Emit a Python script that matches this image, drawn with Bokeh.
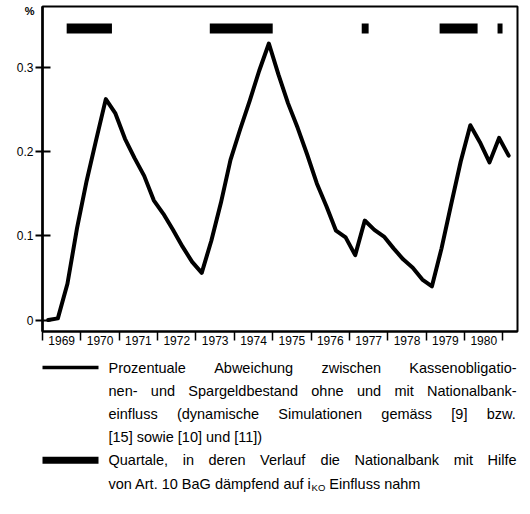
from bokeh.plotting import figure
from bokeh.models import FixedTicker, Range1d, LinearAxis
from bokeh.layouts import column
from bokeh.embed import file_html
from bokeh.resources import INLINE
from bokeh.core.properties import value

# ---------------- data ----------------
quarter_x = [1969.15, 1969.40, 1969.65, 1969.90,
             1970.15, 1970.40, 1970.65, 1970.90,
             1971.15, 1971.40, 1971.65, 1971.90,
             1972.15, 1972.40, 1972.65, 1972.90,
             1973.15, 1973.40, 1973.65, 1973.90,
             1974.15, 1974.40, 1974.65, 1974.90,
             1975.15, 1975.40, 1975.65, 1975.90,
             1976.15, 1976.40, 1976.65, 1976.90,
             1977.15, 1977.40, 1977.65, 1977.90,
             1978.15, 1978.40, 1978.65, 1978.90,
             1979.15, 1979.40, 1979.65, 1979.90,
             1980.15, 1980.40, 1980.65, 1980.90,
             1981.15]
deviation = [0.000, 0.002, 0.043, 0.109,
             0.165, 0.214, 0.262, 0.245,
             0.215, 0.192, 0.171, 0.142,
             0.126, 0.107, 0.087, 0.069,
             0.056, 0.094, 0.139, 0.190,
             0.226, 0.260, 0.296, 0.328,
             0.291, 0.257, 0.228, 0.196,
             0.162, 0.135, 0.106, 0.098,
             0.077, 0.118, 0.107, 0.099,
             0.085, 0.072, 0.062, 0.048,
             0.040, 0.085, 0.137, 0.188,
             0.231, 0.211, 0.187, 0.216,
             0.195]
# quarters with SNB intervention (start / end, fractional years)
bar_start = [1969.63, 1973.36, 1977.32, 1979.35, 1980.86]
bar_end = [1970.81, 1975.00, 1977.50, 1980.34, 1980.99]

y_ticks = [0, 0.1, 0.2, 0.3]
y_tick_labels = ["0", "0.1", "0.2", "0.3"]
unit_label = "%"
year_labels = ["1969", "1970", "1971", "1972", "1973", "1974",
               "1975", "1976", "1977", "1978", "1979", "1980"]
year_bounds = [1969, 1970, 1971, 1972, 1973, 1974, 1975,
               1976, 1977, 1978, 1979, 1980, 1981]

legend_line_text = [
    "Prozentuale Abweichung zwischen Kassenobligatio-",
    "nen- und Spargeldbestand ohne und mit Nationalbank-",
    "einfluss (dynamische Simulationen gemäss [9] bzw.",
    "[15] sowie [10] und [11])",
]
legend_bar_text = [
    "Quartale, in deren Verlauf die Nationalbank mit Hilfe",
]
legend_bar_last = ["von Art. 10 BaG dämpfend auf i", "KO", "Einfluss nahm"]

FONT = "Liberation Sans"

# ---------------- chart ----------------
FRAME_L, FRAME_R, FRAME_T, FRAME_B = 42, 517, 6, 331
CHART_BOTTOM = 28
p = figure(frame_width=FRAME_R - FRAME_L, frame_height=FRAME_B - FRAME_T,
           x_range=Range1d(1969.0, 1981.38), y_range=Range1d(-0.0136, 0.3719),
           output_backend="svg", toolbar_location=None,
           min_border_left=FRAME_L, min_border_right=5, min_border_top=FRAME_T,
           min_border_bottom=CHART_BOTTOM)
p.grid.visible = False
p.outline_line_color = "black"
p.outline_line_width = 2
p.background_fill_color = "white"
p.border_fill_color = "white"

p.line(quarter_x, deviation, line_color="black", line_width=4,
       line_join="round", line_cap="round")

p.quad(left=bar_start, right=bar_end, bottom=0.3399, top=0.3517,
       fill_color="black", line_color=None)

# y axis
ya = p.yaxis[0]
ya.ticker = FixedTicker(ticks=y_ticks, minor_ticks=[])
ya.major_label_overrides = {t: l for t, l in zip(y_ticks, y_tick_labels)}
ya.major_tick_in = 8
ya.major_tick_out = 7
ya.major_tick_line_width = 2
ya.axis_line_width = 2.5
ya.major_label_standoff = 2
ya.major_label_text_font = FONT
ya.major_label_text_font_size = "12px"
ya.major_label_text_color = "black"

# unit label "%" at the top of the value axis
ua = LinearAxis(ticker=FixedTicker(ticks=[0.366], minor_ticks=[]),
                major_label_overrides={0.366: unit_label},
                axis_line_color=None, major_tick_line_color=None,
                minor_tick_line_color=None, major_tick_in=0, major_tick_out=0,
                major_label_standoff=-21, major_label_text_font=FONT,
                major_label_text_font_size="11px",
                major_label_text_font_style="bold",
                major_label_text_color="black")
p.add_layout(ua, "left")

# x axis: labels centred in each year, separators at year bounds
xa = p.xaxis[0]
centers = [b + 0.5 for b in year_bounds[:-1]]
xa.ticker = FixedTicker(ticks=centers, minor_ticks=year_bounds)
xa.major_label_overrides = {c: l for c, l in zip(centers, year_labels)}
xa.major_tick_in = 0
xa.major_tick_out = 0
xa.minor_tick_in = 0
xa.minor_tick_out = 9
xa.minor_tick_line_width = 1.5
xa.minor_tick_line_color = "black"
xa.axis_line_width = 2
xa.major_label_standoff = -5
xa.major_label_text_font = FONT
xa.major_label_text_font_size = "12px"
xa.major_label_text_color = "black"

# ---------------- legend block ----------------
# frame is aligned with the chart frame by the column layout; data units = page px
TOP = FRAME_T + (FRAME_B - FRAME_T) + CHART_BOTTOM
LH = 146
q = figure(frame_width=FRAME_R - FRAME_L, height=LH,
           x_range=Range1d(FRAME_L, FRAME_R), y_range=Range1d(TOP + LH, TOP),
           output_backend="svg", toolbar_location=None,
           x_axis_type=None, y_axis_type=None, min_border=0,
           min_border_left=FRAME_L, min_border_right=5)
q.grid.visible = False
q.outline_line_color = None
q.border_fill_color = "white"

W = {' ': 278, '!': 278, '(': 333, ')': 333, ',': 278, '-': 333, '.': 278,
     '[': 278, ']': 278, 'A': 667, 'B': 667, 'C': 722, 'D': 722, 'E': 667,
     'F': 611, 'G': 778, 'H': 722, 'I': 278, 'K': 667, 'L': 556, 'M': 833,
     'N': 722, 'O': 778, 'P': 667, 'Q': 778, 'R': 722, 'S': 667, 'T': 611,
     'V': 667, 'W': 944, 'Z': 611,
     'a': 556, 'b': 556, 'c': 500, 'd': 556, 'e': 556, 'f': 278, 'g': 556,
     'h': 556, 'i': 222, 'j': 222, 'k': 500, 'l': 222, 'm': 833, 'n': 556,
     'o': 556, 'p': 556, 'q': 556, 'r': 333, 's': 500, 't': 278, 'u': 556,
     'v': 500, 'w': 722, 'x': 500, 'y': 500, 'z': 500, 'ä': 556}
FS = 14.5


def tw(s, size=FS):
    return sum(W.get(c, 556) for c in s) * size / 1000.0


X0, X1 = 108, 516
LINE_Y0 = 367
DY = 23.2


def put(x, y, t, size=FS):
    q.text(x=[x], y=[y], text=[t], text_font=value(FONT),
           text_font_size=f"{size}px", text_baseline="middle",
           text_align="left", text_color="black")


def justify(line, y):
    words = line.split(" ")
    ws = [tw(w) for w in words]
    gap = (X1 - X0 - sum(ws)) / (len(words) - 1)
    x = X0
    for w, wd in zip(words, ws):
        put(x, y, w)
        x += wd + gap


for i, t in enumerate(legend_line_text):
    y = LINE_Y0 + i * DY
    if i < len(legend_line_text) - 1:
        justify(t, y)
    else:
        put(X0, y, t)
y5 = LINE_Y0 + 4 * DY
justify(legend_bar_text[0], y5)
y6 = LINE_Y0 + 5 * DY
put(X0, y6, legend_bar_last[0])
xs = X0 + tw(legend_bar_last[0])
put(xs, y6 + 4, legend_bar_last[1], 9.5)
xs += tw(legend_bar_last[1], 9.5) + tw(" ")
put(xs, y6, legend_bar_last[2])

q.segment(x0=[40], y0=[LINE_Y0], x1=[98], y1=[LINE_Y0], line_color="black",
          line_width=3.5)
q.quad(left=[40], right=[98], top=[y5 - 3.5], bottom=[y5 + 3.5],
       fill_color="black", line_color=None)

layout = column(p, q, spacing=0)
open("out.html", "w").write(file_html(layout, INLINE))
